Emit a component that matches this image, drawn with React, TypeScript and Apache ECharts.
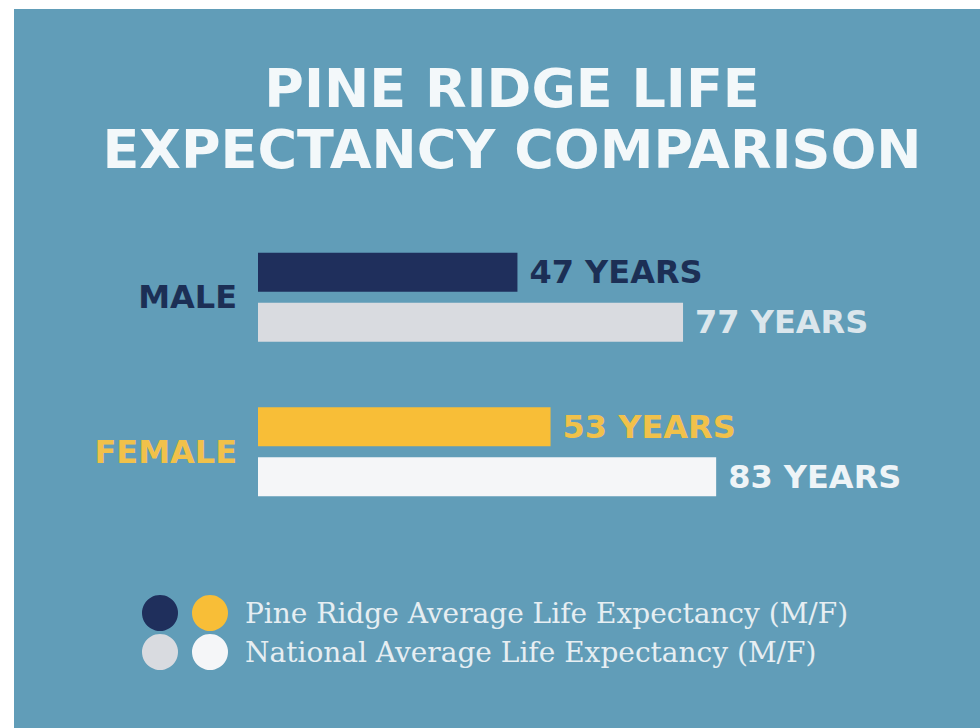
import React, { useEffect, useRef } from "react";
import * as echarts from "echarts";

const titleLines = ["PINE RIDGE LIFE", "EXPECTANCY COMPARISON"];
const categories = ["MALE", "FEMALE"];
const pineRidge = [47, 53];
const national = [77, 83];
const valueSuffix = " YEARS";
const legendLabels = [
  "Pine Ridge Average Life Expectancy (M/F)",
  "National Average Life Expectancy (M/F)",
];

const BG = "#619db8";
const pineColors = ["#1f2f5c", "#f8be37"];
const nationalColors = ["#d9dbe0", "#f5f6f8"];
const pineLabelColors = ["#1c2f55", "#f1c14a"];
const nationalLabelColors = ["#dbe6ec", "#eef4f7"];
const categoryColors = ["#1c2f55", "#f1c14a"];

const labelFont = { fontFamily: "DejaVu Sans", fontWeight: "bold" as const, fontSize: 32 };

export default function App() {
  const ref = useRef<HTMLDivElement>(null);
  useEffect(() => {
    if (!ref.current) return;
    const chart = echarts.init(ref.current, undefined, { renderer: "svg" });
    const rich: Record<string, any> = {};
    categories.forEach((_, i) => {
      rich["c" + i] = { ...labelFont, color: categoryColors[i] };
    });
    const legendRows = [613, 652];
    const legendGraphics: any[] = [];
    legendLabels.forEach((lab, i) => {
      const cols = i === 0 ? pineColors : nationalColors;
      legendGraphics.push(
        { type: "circle", shape: { cx: 160, cy: legendRows[i], r: 18 }, style: { fill: cols[0] } },
        { type: "circle", shape: { cx: 210, cy: legendRows[i], r: 18 }, style: { fill: cols[1] } },
        {
          type: "text",
          x: 245,
          y: legendRows[i],
          style: {
            text: lab,
            fill: "#e6eef2",
            font: "28px 'DejaVu Serif'",
            textAlign: "left",
            textVerticalAlign: "middle",
          },
        }
      );
    });
    chart.setOption({
      animation: false,
      backgroundColor: "#ffffff",
      graphic: [
        { type: "rect", z: -10, shape: { x: 14, y: 9, width: 966, height: 719 }, style: { fill: BG } },
        ...titleLines.map((t, i) => ({
          type: "text",
          x: 512,
          y: [88, 149][i],
          style: {
            text: t,
            fill: "#f3f8fa",
            font: "bold 54px 'DejaVu Sans'",
            textAlign: "center",
            textVerticalAlign: "middle",
          },
        })),
        ...legendGraphics,
      ],
      grid: { left: 258, top: 220, width: 552, height: 309, containLabel: false },
      xAxis: { type: "value", min: 0, max: 100, show: false },
      yAxis: {
        type: "category",
        data: categories,
        inverse: true,
        axisLine: { show: false },
        axisTick: { show: false },
        splitLine: { show: false },
        axisLabel: {
          margin: 21,
          formatter: (v: string, i: number) => `{c${i}|${v}}`,
          rich,
        },
      },
      series: [
        {
          type: "bar",
          name: legendLabels[0],
          barWidth: 39,
          barGap: "28%",
          data: pineRidge.map((v, i) => ({
            value: v,
            itemStyle: { color: pineColors[i] },
            label: { color: pineLabelColors[i] },
          })),
          label: {
            show: true,
            position: "right",
            distance: 12,
            formatter: (p: any) => p.value + valueSuffix,
            ...labelFont,
          },
        },
        {
          type: "bar",
          name: legendLabels[1],
          barWidth: 39,
          barGap: "28%",
          data: national.map((v, i) => ({
            value: v,
            itemStyle: { color: nationalColors[i] },
            label: { color: nationalLabelColors[i] },
          })),
          label: {
            show: true,
            position: "right",
            distance: 12,
            formatter: (p: any) => p.value + valueSuffix,
            ...labelFont,
          },
        },
      ],
    });
    return () => chart.dispose();
  }, []);
  return (
    <div
      ref={ref}
      style={{ position: "absolute", left: 0, top: 0, width: 980, height: 728 }}
    />
  );
}
